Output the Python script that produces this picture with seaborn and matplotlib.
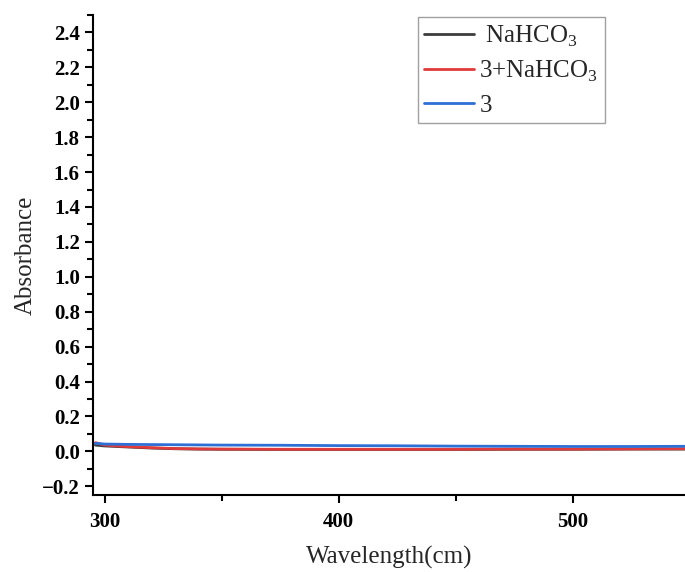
"""
Absorbance spectra of NaHCO3, 3+NaHCO3 and 3
"""
import pandas as pd
import numpy as np
import seaborn as sns
import matplotlib.pyplot as plt
from matplotlib.ticker import MultipleLocator

wavelength = [296, 300, 305, 310, 320, 330, 340, 350, 375, 400, 425, 450, 475, 500, 525, 548]
nahco3 = [0.036, 0.031, 0.028, 0.025, 0.019, 0.015, 0.013, 0.012, 0.011, 0.011, 0.011, 0.011, 0.012, 0.012, 0.013, 0.013]
mix = [0.050, 0.036, 0.031, 0.027, 0.021, 0.016, 0.014, 0.013, 0.012, 0.012, 0.012, 0.012, 0.013, 0.013, 0.014, 0.015]
comp3 = [0.046, 0.042, 0.041, 0.040, 0.039, 0.038, 0.037, 0.036, 0.035, 0.033, 0.032, 0.030, 0.029, 0.028, 0.028, 0.029]

labels = [' NaHCO$_3$', '3+NaHCO$_3$', '3']
colors = ['#3c3c3c', '#e03a3a', '#2e6fd6']


def main():
    sns.set_style("ticks")
    plt.rcParams['font.family'] = ['Liberation Serif', 'DejaVu Serif']
    plt.rcParams['mathtext.fontset'] = 'custom'
    plt.rcParams['mathtext.rm'] = 'Liberation Serif'

    df = pd.DataFrame({
        'Wavelength': wavelength * 3,
        'Absorbance': nahco3 + mix + comp3,
        'Sample': np.repeat(labels, len(wavelength)),
    })

    fig = plt.figure(figsize=(6.85, 5.72), dpi=100)
    ax = fig.add_axes([0.1358, 0.1346, 0.8642, 0.8392])
    sns.lineplot(df, x='Wavelength', y='Absorbance', hue='Sample', palette=colors,
                 hue_order=labels, linewidth=2, ax=ax)

    ax.set_xlim(295, 548)
    ax.set_ylim(-0.25, 2.5)
    ax.xaxis.set_major_locator(MultipleLocator(100))
    ax.xaxis.set_minor_locator(MultipleLocator(50))
    ax.yaxis.set_major_locator(MultipleLocator(0.2))
    ax.yaxis.set_minor_locator(MultipleLocator(0.1))
    ax.yaxis.set_major_formatter(plt.FuncFormatter(lambda v, p: f"{v:.1f}".replace('-', '\u2212')))

    for side in ['top', 'right']:
        ax.spines[side].set_visible(False)
    for side in ['left', 'bottom']:
        ax.spines[side].set_linewidth(1.5)
        ax.spines[side].set_color('black')
    ax.tick_params(which='major', direction='out', length=6, width=1.5, colors='black', labelsize=15)
    ax.tick_params(which='minor', direction='out', length=4, width=1.5, colors='black')
    ax.tick_params(axis='x', pad=6)
    for lab in ax.get_xticklabels() + ax.get_yticklabels():
        lab.set_fontweight('bold')

    ax.set_xlabel('Wavelength(cm)', fontsize=18, labelpad=10)
    ax.set_ylabel('Absorbance', fontsize=18, labelpad=4)

    leg = ax.legend(loc='upper left', bbox_to_anchor=(0.545, 1.0), fontsize=18,
                    frameon=True, fancybox=False, edgecolor='#888888',
                    handlelength=2.0, handletextpad=0.2, borderpad=0.25, labelspacing=0.4,
                    borderaxespad=0.1)
    leg.get_frame().set_linewidth(1.0)

    fig.savefig('out.png', dpi=100)
    return


if __name__ == "__main__":
    main()
